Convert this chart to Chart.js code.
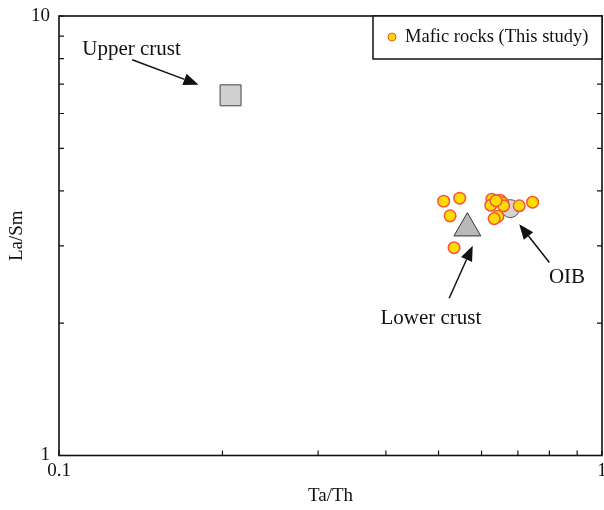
<!DOCTYPE html>
<html>
<head>
<meta charset="utf-8">
<script src="https://cdn.jsdelivr.net/npm/chart.js@4.4.1/dist/chart.umd.min.js"></script>
<style>
  html, body { margin: 0; padding: 0; background: #fff; overflow: hidden; }
  canvas { display: block; }
</style>
</head>
<body>
<canvas id="taThChart" width="604" height="510"></canvas>
<script>
// Mafic rocks (this study)
const maficTaTh = [0.511, 0.547, 0.525, 0.534, 0.627, 0.649, 0.624, 0.656, 0.659, 0.643, 0.633, 0.704, 0.745, 0.638];
const maficLaSm = [3.79, 3.85, 3.51, 2.97, 3.83, 3.81, 3.71, 3.76, 3.70, 3.50, 3.46, 3.70, 3.77, 3.80];

// reference reservoirs
const upperCrust = [0.207, 6.6];
const lowerCrust = [0.565, 3.29];
const oib = [0.678, 3.645];

// tick positions (only decades get a label)
const xTicks = [0.1, 0.2, 0.3, 0.4, 0.5, 0.6, 0.7, 0.8, 0.9, 1];
const yTicks = [1, 2, 3, 4, 5, 6, 7, 8, 9, 10];
const xTickLabels = ["0.1", "1"];

// annotation labels and arrows (data coordinates)
const noteLabels = ["Upper crust", "Lower crust", "OIB"];
const noteTextX = [0.136, 0.484, 0.862];
const noteTextY = [8.37, 2.045, 2.546];
const arrowFromX = [0.1364, 0.523, 0.80];
const arrowFromY = [7.95, 2.28, 2.75];
const arrowToX = [0.1807, 0.578, 0.704];
const arrowToY = [6.98, 3.00, 3.36];

const serif = "'Liberation Serif', 'Times New Roman', serif";

function isDecade(v) {
  const l = Math.log10(v);
  return Math.abs(l - Math.round(l)) < 1e-9;
}

const framePlugin = {
  id: "frame",
  beforeDatasetsDraw(chart) {
    const { ctx, chartArea: a, scales } = chart;
    ctx.save();
    ctx.strokeStyle = "#111";
    ctx.lineWidth = 1.2;
    // minor tick marks, pointing inward
    scales.y.ticks.forEach((t) => {
      const py = scales.y.getPixelForValue(t.value);
      ctx.beginPath();
      ctx.moveTo(a.left, py); ctx.lineTo(a.left + 5, py);
      ctx.moveTo(a.right, py); ctx.lineTo(a.right - 5, py);
      ctx.stroke();
    });
    scales.x.ticks.forEach((t) => {
      const px = scales.x.getPixelForValue(t.value);
      ctx.beginPath();
      ctx.moveTo(px, a.bottom); ctx.lineTo(px, a.bottom - 5);
      ctx.stroke();
    });
    ctx.lineWidth = 1.6;
    ctx.strokeRect(a.left, a.top, a.right - a.left, a.bottom - a.top);
    // x tick labels (drawn here so they don't pad the chart area)
    ctx.fillStyle = "#111";
    ctx.font = "19px " + serif;
    ctx.textAlign = "center";
    ctx.textBaseline = "middle";
    xTickLabels.forEach((lab) => {
      ctx.fillText(lab, scales.x.getPixelForValue(parseFloat(lab)), a.bottom + 16);
    });
    ctx.restore();
  },
  afterDatasetsDraw(chart) {
    const { ctx, chartArea: a, scales } = chart;
    const sx = scales.x, sy = scales.y;
    ctx.save();
    // legend box
    ctx.fillStyle = "#fff";
    ctx.fillRect(373, a.top, a.right - 373, 43);
    ctx.strokeStyle = "#111";
    ctx.lineWidth = 1.5;
    ctx.strokeRect(373, a.top, a.right - 373, 43);
    const ds = chart.data.datasets[0];
    ctx.beginPath();
    ctx.arc(392, a.top + 21, 4, 0, Math.PI * 2);
    ctx.fillStyle = ds.backgroundColor;
    ctx.fill();
    ctx.strokeStyle = ds.borderColor;
    ctx.lineWidth = 1;
    ctx.stroke();
    ctx.fillStyle = "#111";
    ctx.font = "18.5px " + serif;
    ctx.textBaseline = "middle";
    ctx.textAlign = "left";
    ctx.fillText(ds.label, 405, a.top + 21);

    // annotations
    ctx.font = "21px " + serif;
    ctx.textAlign = "center";
    noteLabels.forEach((lab, i) => {
      ctx.fillStyle = "#111";
      ctx.fillText(lab, sx.getPixelForValue(noteTextX[i]), sy.getPixelForValue(noteTextY[i]));
      const x0 = sx.getPixelForValue(arrowFromX[i]), y0 = sy.getPixelForValue(arrowFromY[i]);
      const x1 = sx.getPixelForValue(arrowToX[i]), y1 = sy.getPixelForValue(arrowToY[i]);
      const ang = Math.atan2(y1 - y0, x1 - x0);
      const hl = 15, hw = 6;
      const bx = x1 - hl * Math.cos(ang), by = y1 - hl * Math.sin(ang);
      ctx.strokeStyle = "#111";
      ctx.lineWidth = 1.5;
      ctx.beginPath();
      ctx.moveTo(x0, y0); ctx.lineTo(bx, by);
      ctx.stroke();
      ctx.beginPath();
      ctx.moveTo(x1, y1);
      ctx.lineTo(bx + hw * Math.sin(ang), by - hw * Math.cos(ang));
      ctx.lineTo(bx - hw * Math.sin(ang), by + hw * Math.cos(ang));
      ctx.closePath();
      ctx.fill();
    });
    ctx.restore();
  },
};

const ctx = document.getElementById("taThChart").getContext("2d");
new Chart(ctx, {
  type: "scatter",
  data: {
    datasets: [
      {
        label: "Mafic rocks (This study)",
        data: maficTaTh.map((x, i) => ({ x: x, y: maficLaSm[i] })),
        backgroundColor: "#ffdc00",
        borderColor: "#f5533a",
        borderWidth: 1.5,
        pointRadius: 5.8,
        pointHoverRadius: 5.8,
      },
      {
        label: "OIB",
        data: [{ x: oib[0], y: oib[1] }],
        backgroundColor: "#d4d4d4",
        borderColor: "#555",
        borderWidth: 1,
        pointRadius: 9,
      },
      {
        label: "Lower crust",
        data: [{ x: lowerCrust[0], y: lowerCrust[1] }],
        pointStyle: "triangle",
        backgroundColor: "#b9b9b9",
        borderColor: "#333",
        borderWidth: 1,
        pointRadius: 15.5,
      },
      {
        label: "Upper crust",
        data: [{ x: upperCrust[0], y: upperCrust[1] }],
        pointStyle: "rect",
        backgroundColor: "#d0d0d0",
        borderColor: "#444",
        borderWidth: 1,
        pointRadius: 14.8,
      },
    ],
  },
  options: {
    responsive: false,
    animation: false,
    layout: { autoPadding: false, padding: { top: 16, right: 2, left: 0, bottom: 0 } },
    plugins: { legend: { display: false }, tooltip: { enabled: false } },
    scales: {
      x: {
        type: "logarithmic",
        min: 0.1,
        max: 1,
        grid: { display: false, drawTicks: false },
        border: { display: false },
        afterBuildTicks: (s) => { s.ticks = xTicks.map((v) => ({ value: v })); },
        ticks: { display: false },
        title: { display: true, text: "Ta/Th", color: "#111", font: { family: serif, size: 19 }, padding: { top: 2, bottom: 3 } },
        afterFit: (s) => { s.height = 54.5; s.paddingLeft = 0; s.paddingRight = 0; },
      },
      y: {
        type: "logarithmic",
        min: 1,
        max: 10,
        grid: { display: false, drawTicks: false },
        border: { display: false },
        afterBuildTicks: (s) => { s.ticks = yTicks.map((v) => ({ value: v })); },
        ticks: {
          autoSkip: false,
          padding: 9,
          color: "#111",
          font: { family: serif, size: 19 },
          callback: (v) => (isDecade(v) ? String(v) : ""),
        },
        title: { display: true, text: "La/Sm", color: "#111", font: { family: serif, size: 19 }, padding: { top: 6, bottom: 0 } },
        afterFit: (s) => { s.width = 59; s.paddingTop = 0; s.paddingBottom = 0; },
      },
    },
  },
  plugins: [framePlugin],
});
</script>
</body>
</html>
